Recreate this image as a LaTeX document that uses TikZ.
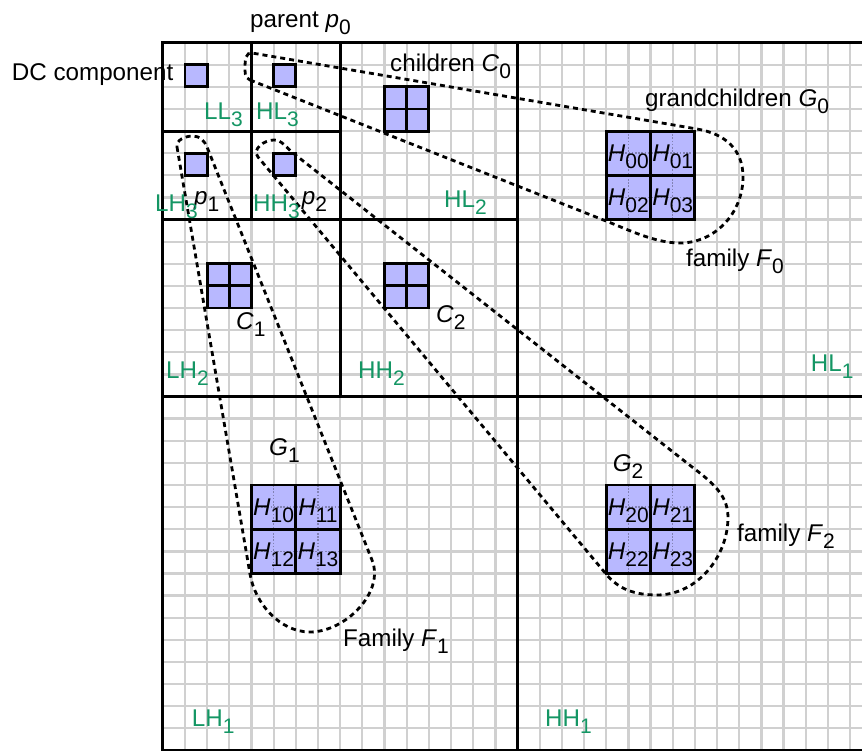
\documentclass[tikz,border=0pt]{standalone}
\usepackage{fontspec}
\setmainfont{Liberation Sans}
\definecolor{gridc}{RGB}{208,208,208}
\definecolor{blockc}{RGB}{184,184,255}
\definecolor{bandc}{RGB}{20,150,100}
\definecolor{dotc}{RGB}{130,130,180}
\newcommand\sbs[1]{\raisebox{-7pt}{\fontsize{21}{21}\selectfont #1}}
\begin{document}
\begin{tikzpicture}[x=1pt, y=-1pt,
  every node/.style={inner sep=0pt, font=\fontsize{24.2}{28}\selectfont},
  gridline/.style={draw=gridc, line width=2.3pt},
  bandline/.style={draw=black, line width=3.1pt},
  blk/.style={fill=blockc, draw=black, line width=2.9pt},
  blkline/.style={draw=black, line width=2.9pt},
  dotline/.style={draw=dotc, line width=1.4pt, dash pattern=on 1.6pt off 1.6pt},
  famloop/.style={draw=black, line width=2.8pt, dash pattern=on 5pt off 4pt},
  lbl/.style={anchor=base west, text=black},
  band/.style={anchor=base west, text=bandc},
  hlbl/.style={anchor=base, text=black}]
\useasboundingbox (0,0) rectangle (862,751);
\clip (0,0) rectangle (862,751);
\fill[white] (0,0) rectangle (862,751);
\begin{scope}[shift={(162.8,42.6)}, x=22.17pt, y=-22.12pt]
  % grid
  \foreach \i in {1,...,32} {
    \draw[gridline] (\i,0) -- (\i,32);
    \draw[gridline] (0,\i) -- (32,\i);
  }
  % small squares (level 3)
  \foreach \x/\y in {1/1, 5/1, 1/5, 5/5}
    \draw[blk] (\x,\y) rectangle ++(1,1);
  % children blocks
  \foreach \x/\y in {10/2, 2/10, 10/10} {
    \draw[blk] (\x,\y) rectangle ++(2,2);
    \draw[blkline] (\x+1,\y) -- ++(0,2) (\x,\y+1) -- ++(2,0);
  }
  % grandchildren blocks
  \foreach \x/\y in {20/4, 4/20, 20/20} {
    \fill[blockc] (\x,\y) rectangle ++(4,4);
    \draw[dotline] (\x+1,\y) -- ++(0,4) (\x+3,\y) -- ++(0,4)
                   (\x,\y+1) -- ++(4,0) (\x,\y+3) -- ++(4,0);
    \draw[blkline] (\x,\y) rectangle ++(4,4) (\x+2,\y) -- ++(0,4) (\x,\y+2) -- ++(4,0);
  }
  % subband boundaries
  \draw[bandline] (0,32) -- (0,0) -- (32,0) -- (32,32) -- cycle;
  \draw[bandline] (16,0) -- (16,32);
  \draw[bandline] (0,16) -- (32,16);
  \draw[bandline] (8,0) -- (8,16);
  \draw[bandline] (0,8) -- (16,8);
  \draw[bandline] (4,0) -- (4,8);
  \draw[bandline] (0,4) -- (8,4);
  % H labels
  \node[hlbl] (h00) at (21,5.36) {\textit{H}\sbs{00}};
  \node[hlbl] (h01) at (23,5.36) {\textit{H}\sbs{01}};
  \node[hlbl] (h02) at (21,7.36) {\textit{H}\sbs{02}};
  \node[hlbl] (h03) at (23,7.36) {\textit{H}\sbs{03}};
  \node[hlbl] (h10) at (5,21.36) {\textit{H}\sbs{10}};
  \node[hlbl] (h11) at (7,21.36) {\textit{H}\sbs{11}};
  \node[hlbl] (h12) at (5,23.36) {\textit{H}\sbs{12}};
  \node[hlbl] (h13) at (7,23.36) {\textit{H}\sbs{13}};
  \node[hlbl] (h20) at (21,21.36) {\textit{H}\sbs{20}};
  \node[hlbl] (h21) at (23,21.36) {\textit{H}\sbs{21}};
  \node[hlbl] (h22) at (21,23.36) {\textit{H}\sbs{22}};
  \node[hlbl] (h23) at (23,23.36) {\textit{H}\sbs{23}};
\end{scope}
% family F0
\draw[famloop] (250,80) -- (606,221)
  .. controls (629,230) and (655,243) .. (680,243)
  .. controls (715,243) and (743,213) .. (743,177)
  .. controls (743,149) and (724.6,133.7) .. (697,129)
  -- (252,53)
  .. controls (246,52) and (245,60) .. (245,66)
  .. controls (245,72) and (244.4,77.8) .. (250,80) -- cycle;
% family F1
\draw[famloop] (177,147) -- (250,574)
  .. controls (255,603.6) and (280,632) .. (310,632)
  .. controls (345,632) and (385,592.5) .. (372,560)
  -- (207,147)
  .. controls (204.8,141.4) and (200,136) .. (193,136)
  .. controls (185,136) and (175.8,140.1) .. (177,147) -- cycle;
% family F2
\draw[famloop] (293,153) -- (687,463)
  .. controls (706.6,478.5) and (728,492) .. (728,517)
  .. controls (728,557) and (697,595) .. (657,595)
  .. controls (635,595) and (618.8,589.4) .. (606,574)
  -- (258,157)
  .. controls (251.6,149.3) and (264,140) .. (274,140)
  .. controls (282,140) and (285.9,147.4) .. (293,153) -- cycle;
% black labels
\node[lbl] (parent) at (250,28) {parent \textit{p}\sbs{0}};
\node[lbl] (dc) at (11.7,81) {DC component};
\node[lbl] (children) at (390,72) {children \textit{C}\sbs{0}};
\node[lbl] (grand) at (645,106.7) {grandchildren \textit{G}\sbs{0}};
\node[lbl] (fam0) at (686,266.7) {family \textit{F}\sbs{0}};
\node[lbl] (fam1) at (343,646.7) {Family \textit{F}\sbs{1}};
\node[lbl] (fam2) at (737,541.7) {family \textit{F}\sbs{2}};
\node[lbl] (g1) at (269,455) {\textit{G}\sbs{1}};
\node[lbl] (g2) at (612.7,471.7) {\textit{G}\sbs{2}};
\node[lbl] (c1) at (236,330) {\textit{C}\sbs{1}};
\node[lbl] (c2) at (436,322.7) {\textit{C}\sbs{2}};
\node[lbl] (p1) at (194,205) {\textit{p}\sbs{1}};
\node[lbl] (p2) at (301.7,205) {\textit{p}\sbs{2}};
% subband labels
\node[band] (ll3) at (204,120) {LL\sbs{3}};
\node[band] (hl3) at (256,120) {HL\sbs{3}};
\node[band] (lh3) at (155,212) {LH\sbs{3}};
\node[band] (hh3) at (253,212) {HH\sbs{3}};
\node[band] (hl2) at (444,208) {HL\sbs{2}};
\node[band] (lh2) at (166,378) {LH\sbs{2}};
\node[band] (hh2) at (358,378) {HH\sbs{2}};
\node[band] (hl1) at (810.7,371.7) {HL\sbs{1}};
\node[band] (lh1) at (191.7,726.7) {LH\sbs{1}};
\node[band] (hh1) at (545,726) {HH\sbs{1}};
\end{tikzpicture}
\end{document}
